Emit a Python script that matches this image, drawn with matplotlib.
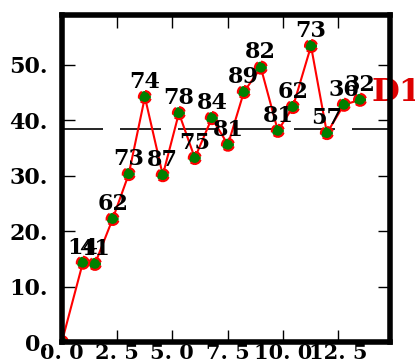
import numpy as np
import matplotlib
matplotlib.use("Agg")
import matplotlib.pyplot as plt

# data
xs = [0.0, 0.95, 1.5, 2.3, 3.03, 3.76, 4.57, 5.3, 6.02, 6.79, 7.52, 8.24, 9.01, 9.78, 10.46, 11.28, 12.0, 12.77, 13.5]
ys = [0.0, 14.3, 14.1, 22.2, 30.3, 44.2, 30.1, 41.3, 33.2, 40.4, 35.6, 45.1, 49.5, 38.1, 42.4, 53.4, 37.7, 42.8, 43.7]
point_labels = ["", "14", "41", "62", "73", "74", "87", "78", "75", "84", "81", "89", "82", "81", "62", "73", "57", "36", "32"]
ref_level = 38.4
series_name = "D1"

xticks = [0.0, 2.5, 5.0, 7.5, 10.0, 12.5]
xtick_labels = ["0. 0", "2. 5", "5. 0", "7. 5", "10. 0", "12. 5"]
yticks = [0, 10, 20, 30, 40, 50]
ytick_labels = ["0.", "10.", "20.", "30.", "40.", "50."]

plt.rcParams['font.family'] = ['DejaVu Serif']
plt.rcParams['font.weight'] = 'bold'

fig = plt.figure(figsize=(4.15, 3.64), dpi=100)
ax = fig.add_axes([0.149, 0.0604, 0.791, 0.8984])

# reference line
ax.axhline(ref_level, color='black', lw=1.2, linestyle=(0, (24.6, 10.2)), zorder=1)

# the series
ax.plot(xs, ys, color='red', lw=1.5, zorder=2)
ax.scatter(xs, ys, s=75, c='green', edgecolors='red', linewidths=1.5,
           linestyle='--', zorder=3)

for x, y, t in zip(xs, ys, point_labels):
    ax.annotate(t, (x, y), xytext=(0, 3), textcoords='offset points',
                ha='center', va='bottom', fontsize=16, fontweight='bold',
                color='black', zorder=4)

# series name at the end of the line
ax.annotate(series_name, (xs[-1], ys[-1]), xytext=(8, 5), textcoords='offset points',
            ha='left', va='center', fontsize=23, fontweight='bold',
            color='#dd0000', zorder=0, annotation_clip=False)

ax.set_xlim(0, 14.86)
ax.set_ylim(0, 59.0)
ax.set_xticks(xticks)
ax.set_xticklabels(xtick_labels, fontsize=15)
ax.set_yticks(yticks)
ax.set_yticklabels(ytick_labels, fontsize=16)

ax.tick_params(direction='in', top=True, right=True, length=9, width=1)
ax.tick_params(axis='y', pad=10)
ax.tick_params(axis='x', pad=1)
for s in ax.spines.values():
    s.set_linewidth(4)
    s.set_zorder(5)

fig.savefig("out.png", dpi=100)
